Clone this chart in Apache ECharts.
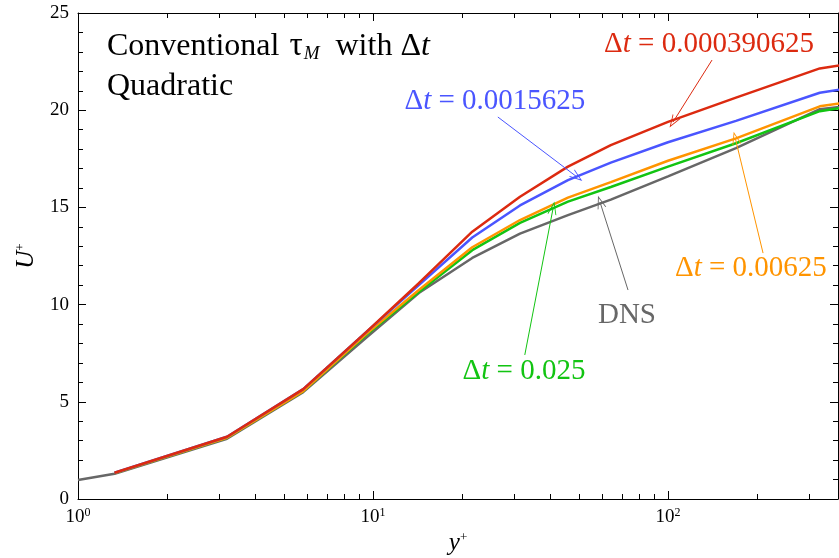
<!DOCTYPE html>
<html>
<head>
<meta charset="utf-8">
<script src="https://cdn.jsdelivr.net/npm/echarts@6/dist/echarts.min.js"></script>
<style>
  html, body { margin: 0; padding: 0; background: #fff; }
  #main { width: 839px; height: 558px; }
</style>
</head>
<body>
<div id="main"></div>
<script>
// wall distance y+ (grid points)
var yPlus = [1.33, 3.2, 5.8, 9.5, 14.3, 21.7, 31.5, 45.8, 64, 100, 170, 327, 400];
var yPlusDNS = [1, 1.33, 3.2, 5.8, 9.5, 14.3, 21.7, 31.5, 45.8, 64, 100, 170, 327, 400];
// U+ values
var uDNS   = [0.98, 1.3, 3.1, 5.5, 8.3, 10.6, 12.4, 13.65, 14.6, 15.4, 16.6, 18.05, 20.05, 20.2];
var uDt025 = [1.33, 3.15, 5.55, 8.45, 10.65, 12.8, 14.2, 15.3, 16.05, 17.1, 18.3, 19.95, 20.15];
var uDt00625 = [1.33, 3.15, 5.55, 8.5, 10.75, 12.95, 14.35, 15.5, 16.3, 17.4, 18.55, 20.2, 20.4];
var uDt0015625 = [1.35, 3.2, 5.65, 8.6, 11.0, 13.45, 15.1, 16.4, 17.3, 18.35, 19.45, 20.9, 21.1];
var uDt000390625 = [1.35, 3.2, 5.65, 8.6, 11.1, 13.75, 15.55, 17.1, 18.2, 19.4, 20.65, 22.15, 22.35];

var majorTicks = [1, 10, 100];
var minorTicks = [2, 3, 4, 5, 6, 7, 8, 9, 20, 30, 40, 50, 60, 70, 80, 90, 200, 300];
var xMax = Math.pow(10, 760 / 295);

var colors = {
    dns: '#676767',
    g: '#12c412',
    o: '#ff9400',
    b: '#4a55ff',
    r: '#dc2a10'
};

function pair(xs, ys) {
    var out = [];
    for (var i = 0; i < ys.length; i++) out.push([xs[i], ys[i]]);
    return out;
}

var serif = 'Liberation Serif';
var arrowHead = 'path://M5,0 L10,12 L9,12 L5,2.5 L1,12 L0,12 Z';

function dtLabel(val) {
    return '{n|\u0394}{i|t}{n| = ' + val + '}';
}

function richFor(color) {
    return {
        n: { fontFamily: serif, fontSize: 29, color: color },
        i: { fontFamily: serif, fontSize: 29, fontStyle: 'italic', color: color }
    };
}

function makeSeries(name, data, color, label, labelAt, arrowFrom, arrowTo) {
    return {
        name: name,
        type: 'line',
        data: data,
        symbol: 'none',
        smooth: false,
        clip: true,
        lineStyle: { color: color, width: 2.5 },
        itemStyle: { color: color },
        markLine: {
            silent: true,
            animation: false,
            symbol: ['none', arrowHead],
            symbolSize: [9, 13],
            label: { show: false },
            lineStyle: { color: color, width: 1, type: 'solid' },
            data: [[{ coord: arrowFrom }, { coord: arrowTo }]]
        },
        markPoint: {
            silent: true,
            animation: false,
            symbol: 'circle',
            symbolSize: 0,
            label: {
                show: true,
                position: 'inside',
                formatter: label,
                rich: richFor(color)
            },
            data: [{ coord: labelAt }]
        }
    };
}

var chart = echarts.init(document.getElementById('main'));

function logAxis(pos, ticks, len, showLine, showLabel) {
    return {
        type: 'log',
        logBase: 10,
        min: 1,
        max: xMax,
        position: pos,
        axisLine: { show: showLine, lineStyle: { color: '#000', width: 1 } },
        axisTick: { show: true, inside: true, length: len, customValues: ticks, lineStyle: { color: '#000' } },
        axisLabel: {
            show: showLabel,
            customValues: [1, 10, 100],
            margin: 8,
            formatter: function (v) {
                return '{n|10}{s|' + Math.round(Math.log10(v)) + '}';
            },
            rich: {
                n: { fontFamily: serif, fontSize: 19, color: '#000' },
                s: { fontFamily: serif, fontSize: 12, color: '#000', verticalAlign: 'top', padding: [0, 0, 8, 0] }
            }
        },
        splitLine: { show: false },
        minorTick: { show: false }
    };
}

function valAxis(pos, showLabel) {
    return {
        type: 'value',
        min: 0,
        max: 25,
        interval: 5,
        position: pos,
        axisLine: { show: true, lineStyle: { color: '#000', width: 1 } },
        axisTick: { show: true, inside: true, length: 8, lineStyle: { color: '#000' } },
        minorTick: { show: true, splitNumber: 5, length: 5, lineStyle: { color: '#000' } },
        axisLabel: { show: showLabel, fontFamily: serif, fontSize: 19, color: '#000', margin: 9 },
        splitLine: { show: false }
    };
}

var xBottom = logAxis('bottom', majorTicks, 8, true, true);
xBottom.name = '{i|y}{s|+}';
xBottom.nameLocation = 'middle';
xBottom.nameGap = 30;
xBottom.nameTextStyle = {
    rich: {
        i: { fontFamily: serif, fontSize: 25, fontStyle: 'italic', color: '#000' },
        s: { fontFamily: serif, fontSize: 13, color: '#000', verticalAlign: 'top', padding: [0, 0, 10, 0] }
    }
};

var yLeft = valAxis('left', true);
yLeft.name = '{i|U}{s|+}';
yLeft.nameLocation = 'middle';
yLeft.nameRotate = 90;
yLeft.nameGap = 36;
yLeft.nameTextStyle = {
    rich: {
        i: { fontFamily: serif, fontSize: 25, fontStyle: 'italic', color: '#000' },
        s: { fontFamily: serif, fontSize: 13, color: '#000', verticalAlign: 'top', padding: [0, 0, 10, 0] }
    }
};

var option = {
    animation: false,
    backgroundColor: '#fff',
    grid: { left: 78, right: 1, top: 13, bottom: 59, containLabel: false, outerBoundsMode: 'none' },
    xAxis: [
        xBottom,
        logAxis('bottom', minorTicks, 5, false, false),
        logAxis('top', majorTicks, 8, true, false),
        logAxis('top', minorTicks, 5, false, false)
    ],
    yAxis: [yLeft, valAxis('right', false)],
    graphic: [
        {
            type: 'text',
            left: 107,
            top: 30,
            style: {
                text: '{n|Conventional }{g|\u03c4}{sub|M}{n| with \u0394}{i|t}',
                rich: {
                    n: { fontFamily: serif, fontSize: 32, fill: '#000' },
                    g: { fontFamily: serif, fontSize: 33, fill: '#000', padding: [0, 1, 0, 2] },
                    sub: { fontFamily: serif, fontSize: 19, fontStyle: 'italic', fill: '#000', verticalAlign: 'bottom', padding: [10, 8, 0, 0] },
                    i: { fontFamily: serif, fontSize: 32, fontStyle: 'italic', fill: '#000' }
                }
            }
        },
        {
            type: 'text',
            left: 107,
            top: 71,
            style: { text: 'Quadratic', font: '32px "Liberation Serif"', fill: '#000' }
        }
    ],
    series: [
        makeSeries('DNS', pair(yPlusDNS, uDNS), colors.dns, '{n|DNS}', [72.6, 9.47], [73.2, 10.75], [58.8, 15.28]),
        makeSeries('dt=0.025', pair(yPlus, uDt025), colors.g, dtLabel('0.025'), [32.5, 6.58], [32.7, 7.41], [40.8, 14.97]),
        makeSeries('dt=0.00625', pair(yPlus, uDt00625), colors.o, dtLabel('0.00625'), [191, 11.88], [210, 12.65], [169, 18.57]),
        makeSeries('dt=0.0015625', pair(yPlus, uDt0015625), colors.b, dtLabel('0.0015625'), [25.9, 20.47], [26.5, 19.65], [49.2, 16.56]),
        makeSeries('dt=0.000390625', pair(yPlus, uDt000390625), colors.r, dtLabel('0.000390625'), [137.7, 23.4], [141, 22.58], [104, 19.39])
    ]
};

chart.setOption(option);
</script>
</body>
</html>
